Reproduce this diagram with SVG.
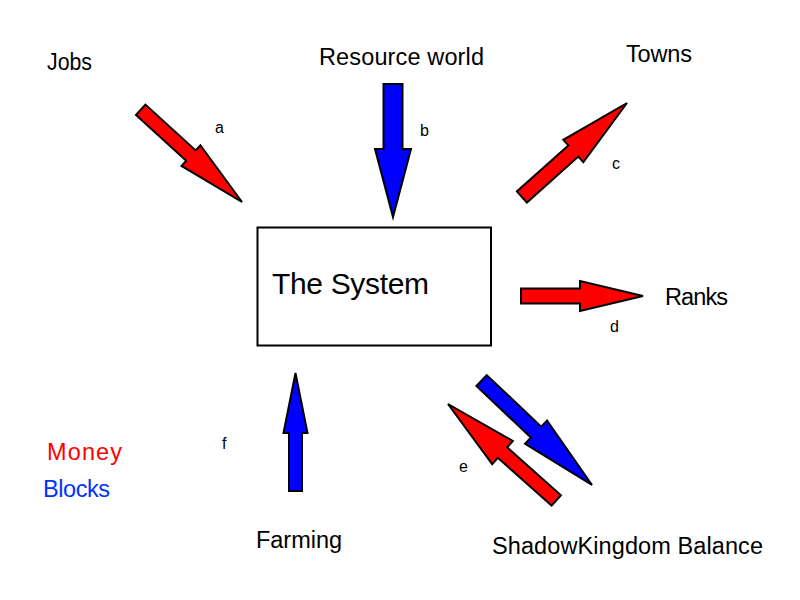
<svg xmlns="http://www.w3.org/2000/svg" width="800" height="600" viewBox="0 0 800 600">
<style>
text{font-family:"Liberation Sans",Arial,sans-serif;fill:#000}
.lbl{font-size:23.5px}
.sm{font-size:16px}
.red{fill:#ff0000;stroke:#000;stroke-width:2;stroke-linejoin:miter}
.blue{fill:#0000ff;stroke:#000;stroke-width:2;stroke-linejoin:miter}
</style>
<rect width="800" height="600" fill="#fff"/>
<g id="system">
<rect x="257.5" y="227.5" width="233.5" height="118" fill="#fff" stroke="#000" stroke-width="2"/>
<text x="272" y="294" font-size="30" textLength="157">The System</text>
</g>
<g id="jobs"><text class="lbl" x="47" y="70" textLength="45" lengthAdjust="spacingAndGlyphs">Jobs</text></g>
<g id="resource"><text class="lbl" x="319" y="65" textLength="165">Resource world</text></g>
<g id="towns"><text class="lbl" x="626" y="62" textLength="66">Towns</text></g>
<g id="ranks"><text class="lbl" x="665" y="305" textLength="63">Ranks</text></g>
<g id="farming"><text class="lbl" x="256" y="548" textLength="86">Farming</text></g>
<g id="shadow"><text class="lbl" x="492" y="554" textLength="271">ShadowKingdom Balance</text></g>
<g id="legend">
<text class="lbl" x="47" y="460" style="fill:#ff0000" textLength="75">Money</text>
<text class="lbl" x="43" y="497" style="fill:#0033ff" textLength="67">Blocks</text>
</g>
<g id="connectors">
<polygon class="red" transform="translate(242,202) rotate(42.3)" points="0,0 -69,-14 -69,-7 -137,-7 -137,7 -69,7 -69,14"/>
<polygon class="blue" points="383.5,84 402.5,84 402.5,149 411,149 393,217 375,149 383.5,149"/>
<polygon class="red" transform="translate(627,103) rotate(-41.8)" points="0,0 -72,-15 -72,-7.5 -141,-7.5 -141,7.5 -72,7.5 -72,15"/>
<polygon class="red" points="521,288.5 580,288.5 580,281 643,296 580,311 580,303.5 521,303.5"/>
<polygon class="blue" transform="translate(592,485) rotate(43.4)" points="0,0 -77,-16 -77,-7.5 -152,-7.5 -152,7.5 -77,7.5 -77,16"/>
<polygon class="red" transform="translate(448,404) rotate(221.7)" points="0,0 -73,-15.5 -73,-7 -145,-7 -145,7 -73,7 -73,15.5"/>
<polygon class="blue" points="289,491 302,491 302,433 307.5,433 295.5,373 283.5,433 289,433"/>
<text class="sm" x="215" y="133">a</text>
<text class="sm" x="420" y="136">b</text>
<text class="sm" x="612" y="169">c</text>
<text class="sm" x="610" y="332">d</text>
<text class="sm" x="459" y="472">e</text>
<text class="sm" x="222" y="449">f</text>
</g>
</svg>
